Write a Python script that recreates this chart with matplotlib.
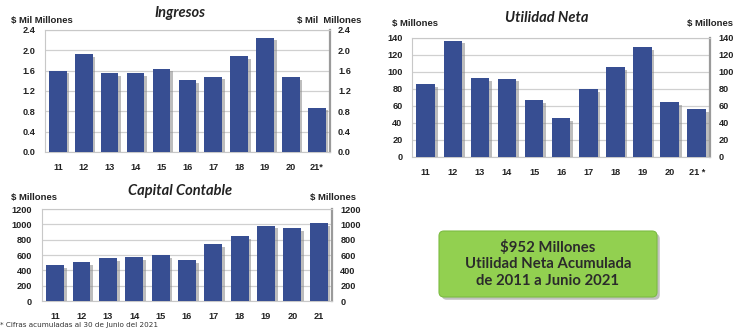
import matplotlib
matplotlib.use('Agg')
import matplotlib.pyplot as plt
import matplotlib.patheffects as pe
from matplotlib.patches import FancyBboxPatch

# Data
years = ['11', '12', '13', '14', '15', '16', '17', '18', '19', '20', '21*']
years_un = ['11', '12', '13', '14', '15', '16', '17', '18', '19', '20', '21 *']
years_cc = ['11', '12', '13', '14', '15', '16', '17', '18', '19', '20', '21']
ingresos = [1.60, 1.93, 1.55, 1.55, 1.64, 1.42, 1.48, 1.88, 2.25, 1.47, 0.87]
utilidad = [86, 137, 93, 92, 67, 46, 80, 106, 129, 64, 56]
capital = [465, 510, 565, 570, 600, 530, 745, 845, 985, 955, 1020]

BAR = '#374e92'
TICK_FONT = dict(fontsize=6.6, fontweight='bold', color='#222222', family='Liberation Sans')

fig = plt.figure(figsize=(7.36, 3.33), dpi=100)


def bar_panel(rect, values, labels, ymax, step, fmt, title, unit_l, unit_r,
              title_xy, unit_l_xy, unit_r_xy):
    ax = fig.add_axes(rect)
    x = range(len(values))
    shadow = [pe.SimplePatchShadow(offset=(2, -2), shadow_rgbFace='#888888', alpha=0.55),
              pe.Normal()]
    bars = ax.bar(x, values, width=0.68, color=BAR, zorder=3)
    for b in bars:
        b.set_path_effects(shadow)
    ax.set_xlim(-0.5, len(values) - 0.5)
    ax.set_ylim(0, ymax)
    ticks = [i * step for i in range(int(round(ymax / step)) + 1)]
    ax.set_yticks(ticks)
    ax.set_yticklabels([fmt.format(t) for t in ticks], **TICK_FONT)
    ax.set_xticks(list(x))
    ax.set_xticklabels(labels, **TICK_FONT)
    ax.tick_params(length=0, pad=7)
    ax.tick_params(axis='x', pad=8)
    ax.grid(axis='y', color='#d0d0d0', linewidth=0.9, zorder=0)
    for s in ax.spines.values():
        s.set_color('#c8c8c8')
        s.set_linewidth(0.8)
    ax.spines['right'].set_color('#9a9a9a')
    ax.spines['right'].set_linewidth(1.6)

    ax2 = ax.twinx()
    ax2.set_ylim(0, ymax)
    ax2.set_yticks(ticks)
    ax2.set_yticklabels([fmt.format(t) for t in ticks], **TICK_FONT)
    ax2.tick_params(length=0, pad=6)
    for s in ax2.spines.values():
        s.set_visible(False)

    fig.text(title_xy[0], title_xy[1], title, fontsize=10.5, fontstyle='italic',
             fontweight='bold', family='Lato', color='#222222', ha='center', va='center')
    fig.text(unit_l_xy[0], unit_l_xy[1], unit_l, fontsize=6.8, fontweight='bold',
             color='#222222', ha='left', va='center', family='Liberation Sans')
    fig.text(unit_r_xy[0], unit_r_xy[1], unit_r, fontsize=6.8, fontweight='bold',
             color='#222222', ha='left', va='center', family='Liberation Sans')
    return ax


bar_panel([0.061, 0.544, 0.387, 0.366], ingresos, years, 2.4, 0.4, '{:.1f}',
          'Ingresos', '$ Mil Millones', '$ Mil  Millones',
          (0.245, 0.960), (0.015, 0.938), (0.403, 0.938))

bar_panel([0.560, 0.529, 0.405, 0.357], utilidad, years_un, 140, 20, '{:.0f}',
          'Utilidad Neta', '$ Millones', '$ Millones',
          (0.743, 0.945), (0.532, 0.93), (0.934, 0.93))

bar_panel([0.057, 0.096, 0.394, 0.276], capital, years_cc, 1200, 200, '{:.0f}',
          'Capital Contable', '$ Millones', '$ Millones',
          (0.245, 0.425), (0.015, 0.408), (0.421, 0.408))

fig.text(0.0, 0.025, '* Cifras acumuladas al 30 de Junio del 2021', fontsize=5.2,
         color='#333333', ha='left', va='center')

# Summary box
box_ax = fig.add_axes([0, 0, 1, 1])
box_ax.set_xlim(0, 736)
box_ax.set_ylim(333, 0)
box_ax.axis('off')
box = FancyBboxPatch((439, 231), 218, 66, boxstyle='round,pad=0,rounding_size=5',
                     facecolor='#92d050', edgecolor='#7cbc42', linewidth=0.8)
box.set_path_effects([pe.SimplePatchShadow(offset=(2, -2), shadow_rgbFace='#999999', alpha=0.6),
                      pe.Normal()])
box_ax.add_patch(box)
box_ax.text(548, 264, '$952 Millones\nUtilidad Neta Acumulada\nde 2011 a Junio 2021',
            ha='center', va='center', fontsize=10.7, fontweight='bold', family='Lato',
            color='#2b2b2b', linespacing=1.2)

fig.savefig('out.png', dpi=100)
